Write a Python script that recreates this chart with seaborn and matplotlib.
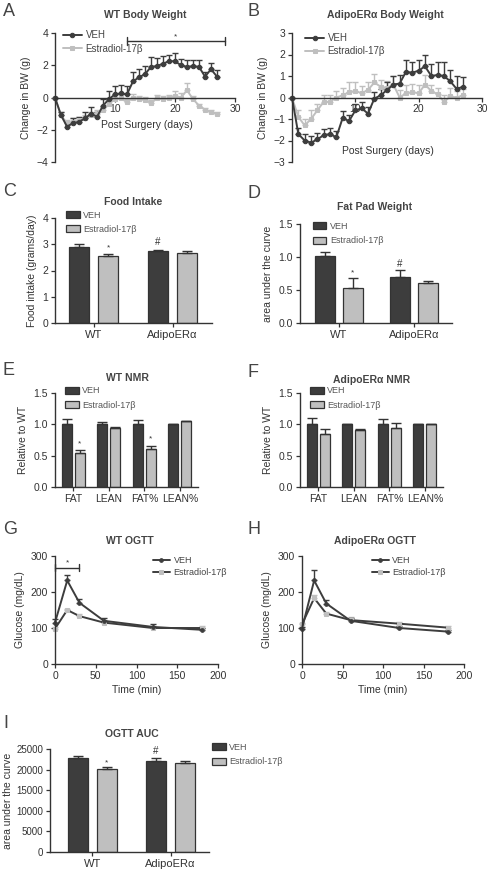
import numpy as np
import pandas as pd
import matplotlib
matplotlib.use('Agg')
import matplotlib.pyplot as plt
import seaborn as sns

# ---- data ----
days = list(range(28))
wt_bw_veh = [0, -1.1, -1.8, -1.6, -1.5, -1.3, -1.0, -1.2, -0.5, -0.1, 0.2, 0.25, 0.2, 1.0,
             1.25, 1.45, 1.9, 1.95, 2.1, 2.25, 2.25, 2.0, 1.9, 1.95, 1.9, 1.3, 1.75, 1.3]
wt_bw_veh_err = [0, 0.2, 0.3, 0.3, 0.3, 0.4, 0.4, 0.3, 0.4, 0.5, 0.5, 0.5, 0.5, 0.6,
                 0.5, 0.5, 0.6, 0.5, 0.5, 0.4, 0.5, 0.4, 0.4, 0.4, 0.4, 0.3, 0.4, 0.4]
wt_bw_e2 = [0, -1.1, -1.6, -1.5, -1.4, -1.3, -1.1, -1.0, -0.8, -0.4, -0.1, -0.05, -0.3, 0.0,
            -0.1, -0.15, -0.35, -0.05, -0.1, -0.05, 0.1, 0.0, 0.45, -0.1, -0.5, -0.75, -0.9, -1.0]
wt_bw_e2_err = [0, 0.2, 0.2, 0.2, 0.2, 0.2, 0.2, 0.2, 0.2, 0.3, 0.3, 0.2, 0.2, 0.2,
                0.2, 0.2, 0.2, 0.2, 0.2, 0.2, 0.3, 0.3, 0.45, 0.2, 0.1, 0.1, 0.1, 0.1]

ko_bw_veh = [0, -1.7, -2.0, -2.1, -1.95, -1.75, -1.7, -1.85, -0.95, -1.1, -0.6, -0.5, -0.75, -0.05,
             0.1, 0.35, 0.6, 0.65, 1.2, 1.15, 1.25, 1.45, 1.0, 1.05, 1.0, 0.75, 0.4, 0.5]
ko_bw_veh_err = [0, 0.3, 0.3, 0.3, 0.3, 0.3, 0.3, 0.3, 0.3, 0.3, 0.3, 0.3, 0.3, 0.3,
                 0.3, 0.35, 0.4, 0.4, 0.55, 0.5, 0.5, 0.55, 0.55, 0.6, 0.65, 0.55, 0.6, 0.45]
ko_bw_e2 = [0, -0.9, -1.3, -1.0, -0.6, -0.2, -0.2, 0.0, 0.1, 0.25, 0.3, 0.2, 0.35, 0.7,
            0.5, 0.45, 0.6, 0.0, 0.2, 0.25, 0.2, 0.6, 0.3, 0.15, -0.2, 0.05, 0.0, 0.1]
ko_bw_e2_err = [0, 0.3, 0.3, 0.4, 0.3, 0.3, 0.3, 0.3, 0.35, 0.45, 0.4, 0.35, 0.35, 0.4,
                0.3, 0.3, 0.4, 0.35, 0.4, 0.4, 0.4, 0.45, 0.3, 0.3, 0.3, 0.4, 0.3, 0.3]

genotypes = ['WT', 'AdipoERα']
food_veh = [2.9, 2.75]
food_veh_err = [0.1, 0.05]
food_e2 = [2.55, 2.65]
food_e2_err = [0.06, 0.1]

fat_veh = [1.02, 0.70]
fat_veh_err = [0.05, 0.1]
fat_e2 = [0.53, 0.60]
fat_e2_err = [0.15, 0.04]

nmr_cats = ['FAT', 'LEAN', 'FAT%', 'LEAN%']
wt_nmr_veh = [1.0, 1.0, 1.0, 1.0]
wt_nmr_veh_err = [0.08, 0.03, 0.07, 0.01]
wt_nmr_e2 = [0.54, 0.94, 0.60, 1.05]
wt_nmr_e2_err = [0.05, 0.02, 0.06, 0.01]
ko_nmr_veh = [1.0, 1.0, 1.0, 1.0]
ko_nmr_veh_err = [0.1, 0.01, 0.09, 0.01]
ko_nmr_e2 = [0.85, 0.91, 0.94, 1.0]
ko_nmr_e2_err = [0.07, 0.02, 0.08, 0.01]

ogtt_time = [0, 15, 30, 60, 120, 180]
wt_ogtt_veh = [115, 232, 170, 120, 103, 95]
wt_ogtt_veh_err = [10, 15, 10, 8, 8, 5]
wt_ogtt_e2 = [98, 150, 133, 115, 100, 100]
wt_ogtt_e2_err = [5, 4, 5, 4, 4, 6]
ko_ogtt_veh = [98, 232, 168, 120, 100, 90]
ko_ogtt_veh_err = [5, 28, 10, 8, 5, 5]
ko_ogtt_e2 = [110, 183, 140, 122, 112, 101]
ko_ogtt_e2_err = [5, 10, 5, 8, 4, 4]

auc_veh = [22800, 22100]
auc_veh_err = [500, 700]
auc_e2 = [20200, 21700]
auc_e2_err = [400, 400]

# ---- style ----
sns.set_theme(style='ticks')
plt.rcParams['font.family'] = ['Liberation Sans', 'DejaVu Sans']
TXT = '#333333'
DARK = '#3d3d3d'
LIGHT = '#bfbfbf'
plt.rcParams['text.color'] = TXT
plt.rcParams['axes.labelcolor'] = TXT
LAB = 7.5

W, H = 490, 873
fig = plt.figure(figsize=(W / 100, H / 100), dpi=100)


def px_axes(l, t, r, b):
    return fig.add_axes([l / W, 1 - b / H, (r - l) / W, (b - t) / H])


def style(ax):
    sns.despine(ax=ax)
    for s in ['left', 'bottom']:
        ax.spines[s].set_linewidth(1.0)
        ax.spines[s].set_color(TXT)
    ax.tick_params(labelsize=7.5, length=3, width=0.9, pad=2, colors=TXT)
    ax.set_facecolor('none')


def up_err(ax, x, y, err, color, cap=2.0):
    ax.errorbar(x, y, yerr=[np.zeros(len(err)), err], fmt='none', ecolor=color,
                elinewidth=1.0, capsize=cap, capthick=1.0, clip_on=False)


def line_panel(ax, x, veh, veh_err, e2, e2_err, e2_line, ms):
    up_err(ax, x, e2, e2_err, LIGHT)
    up_err(ax, x, veh, veh_err, DARK)
    sns.lineplot(x=x, y=e2, color=e2_line, marker='s', markersize=ms, markerfacecolor=LIGHT,
                 markeredgecolor=LIGHT, linewidth=1.4, label='Estradiol-17β', ax=ax)
    sns.lineplot(x=x, y=veh, color=DARK, marker='o', markersize=ms, markeredgecolor=DARK,
                 linewidth=1.4, label='VEH', ax=ax)
    for ln in ax.lines:
        ln.set_clip_on(False)
    style(ax)


def bar_panel(ax, cats, veh, veh_err, e2, e2_err, width, gap):
    df = pd.DataFrame({'cat': cats * 2, 'val': veh + e2,
                       'grp': ['VEH'] * len(cats) + ['Estradiol-17β'] * len(cats)})
    sns.barplot(data=df, x='cat', y='val', hue='grp', palette=[DARK, LIGHT], width=width,
                gap=gap, edgecolor=TXT, linewidth=0.9, errorbar=None, ax=ax, saturation=1)
    for cont, errs in zip(ax.containers, [veh_err, e2_err]):
        xs = [p.get_x() + p.get_width() / 2 for p in cont]
        ys = [p.get_height() for p in cont]
        up_err(ax, xs, ys, errs, TXT, cap=3.5)
    style(ax)
    ax.tick_params(axis='x', labelsize=8)
    ax.set_xlabel('')


def bar_legend(ax, x, y):
    h, l = ax.get_legend_handles_labels()
    order = [l.index('VEH'), l.index('Estradiol-17β')]
    ax.legend([h[i] for i in order], [l[i] for i in order], loc='upper left',
              bbox_to_anchor=(x, y), frameon=False, fontsize=6.5, handlelength=1.5,
              handleheight=0.8, handletextpad=0.4, labelspacing=0.6, borderpad=0,
              borderaxespad=0, labelcolor='#555555')


def line_legend(ax, x, y, fs=7):
    h, l = ax.get_legend_handles_labels()
    order = [l.index('VEH'), l.index('Estradiol-17β')]
    ax.legend([h[i] for i in order], [l[i] for i in order], loc='upper left',
              bbox_to_anchor=(x, y), frameon=False, fontsize=fs, handlelength=1.9,
              handletextpad=0.4, labelspacing=0.35, borderpad=0, borderaxespad=0,
              labelcolor='#444444')


def title(x, y, s):
    fig.text(x / W, 1 - y / H, s, ha='center', va='center', fontsize=7.5,
             fontweight='bold', color='#444444')


def letter(x, y, s):
    fig.text(x / W, 1 - y / H, s, ha='left', va='center', fontsize=13, color='#444444')


# ---- A: WT body weight ----
axA = px_axes(55, 33, 235, 162)
line_panel(axA, days, wt_bw_veh, wt_bw_veh_err, wt_bw_e2, wt_bw_e2_err, LIGHT, 3.2)
axA.set_xlim(0, 30)
axA.set_ylim(-4, 4)
axA.set_yticks([-4, -2, 0, 2, 4])
axA.set_xticks([0, 10, 20, 30], ['', '10', '20', '30'])
axA.spines['bottom'].set_position(('data', 0))
axA.set_ylabel('Change in BW (g)', fontsize=LAB)
axA.text(0.51, 0.29, 'Post Surgery (days)', transform=axA.transAxes, ha='center',
         va='center', fontsize=LAB)
axA.plot([12, 28.3], [3.5, 3.5], color=TXT, lw=1.0, clip_on=False)
for xb in [12, 28.3]:
    axA.plot([xb, xb], [3.25, 3.75], color=TXT, lw=1.0, clip_on=False)
axA.text(20, 3.55, '*', ha='center', va='bottom', fontsize=6)
line_legend(axA, 0.045, 1.02)

# ---- B: AdipoERa body weight ----
axB = px_axes(292, 33, 482, 162)
line_panel(axB, days, ko_bw_veh, ko_bw_veh_err, ko_bw_e2, ko_bw_e2_err, LIGHT, 3.2)
axB.set_xlim(0, 30)
axB.set_ylim(-3, 3)
axB.set_yticks([-3, -2, -1, 0, 1, 2, 3])
axB.set_xticks([0, 10, 20, 30], ['', '10', '20', '30'])
axB.spines['bottom'].set_position(('data', 0))
axB.set_ylabel('Change in BW (g)', fontsize=LAB)
axB.text(0.505, 0.085, 'Post Surgery (days)', transform=axB.transAxes, ha='center',
         va='center', fontsize=LAB)
line_legend(axB, 0.07, 1.0)

# ---- C: food intake ----
axC = px_axes(55, 218, 212, 323)
bar_panel(axC, genotypes, food_veh, food_veh_err, food_e2, food_e2_err, 0.746, 0.32)
axC.set_xlim(-0.49, 1.5)
axC.set_ylim(0, 4)
axC.set_yticks([0, 1, 2, 3, 4])
axC.set_ylabel('Food intake (grams/day)', fontsize=LAB)
axC.text(0.187, 2.55 + 0.06 + 0.12, '*', ha='center', va='bottom', fontsize=6)
axC.text(1 - 0.187, 2.75 + 0.05 + 0.1, '#', ha='center', va='bottom', fontsize=7)
bar_legend(axC, 0.07, 1.07)

# ---- D: fat pad weight ----
axD = px_axes(300, 224, 452, 323)
bar_panel(axD, genotypes, fat_veh, fat_veh_err, fat_e2, fat_e2_err, 0.746, 0.285)
axD.set_xlim(-0.52, 1.51)
axD.set_ylim(0, 1.5)
axD.set_yticks([0, 0.5, 1.0, 1.5])
axD.yaxis.set_major_formatter(matplotlib.ticker.FormatStrFormatter('%.1f'))
axD.set_ylabel('area under the curve', fontsize=LAB)
axD.text(0.187, 0.53 + 0.17, '*', ha='center', va='bottom', fontsize=6)
axD.text(1 - 0.187, 0.70 + 0.12, '#', ha='center', va='bottom', fontsize=7)
bar_legend(axD, 0.085, 1.02)

# ---- E: WT NMR ----
axE = px_axes(55, 393, 198, 487)
bar_panel(axE, nmr_cats, wt_nmr_veh, wt_nmr_veh_err, wt_nmr_e2, wt_nmr_e2_err, 0.73, 0.23)
axE.set_xlim(-0.52, 3.51)
axE.set_ylim(0, 1.5)
axE.set_yticks([0, 0.5, 1.0, 1.5])
axE.yaxis.set_major_formatter(matplotlib.ticker.FormatStrFormatter('%.1f'))
axE.set_ylabel('Relative to WT', fontsize=LAB)
axE.tick_params(axis='x', labelsize=7.5)
for i, (v, e) in enumerate(zip(wt_nmr_e2, wt_nmr_e2_err)):
    if i in (0, 2):
        axE.text(i + 0.1825, v + e + 0.05, '*', ha='center', va='bottom', fontsize=6)
bar_legend(axE, 0.07, 1.07)

# ---- F: AdipoERa NMR ----
axF = px_axes(300, 393, 443, 487)
bar_panel(axF, nmr_cats, ko_nmr_veh, ko_nmr_veh_err, ko_nmr_e2, ko_nmr_e2_err, 0.73, 0.23)
axF.set_xlim(-0.52, 3.51)
axF.set_ylim(0, 1.5)
axF.set_yticks([0, 0.5, 1.0, 1.5])
axF.yaxis.set_major_formatter(matplotlib.ticker.FormatStrFormatter('%.1f'))
axF.set_ylabel('Relative to WT', fontsize=LAB)
axF.tick_params(axis='x', labelsize=7.5)
bar_legend(axF, 0.07, 1.07)

# ---- G: WT OGTT ----
axG = px_axes(55, 556, 218, 664)
line_panel(axG, ogtt_time, wt_ogtt_veh, wt_ogtt_veh_err, wt_ogtt_e2, wt_ogtt_e2_err, DARK, 2.6)
axG.set_xlim(0, 200)
axG.set_ylim(0, 300)
axG.set_xticks([0, 50, 100, 150, 200])
axG.set_yticks([0, 100, 200, 300])
axG.set_xlabel('Time (min)', fontsize=LAB, labelpad=3)
axG.set_ylabel('Glucose (mg/dL)', fontsize=LAB)
axG.plot([0, 30], [268, 268], color=TXT, lw=1.0, clip_on=False)
for xb in [0, 30]:
    axG.plot([xb, xb], [258, 278], color=TXT, lw=1.0, clip_on=False)
axG.text(15, 270, '*', ha='center', va='bottom', fontsize=6)
line_legend(axG, 0.6, 1.0, fs=6.5)

# ---- H: AdipoERa OGTT ----
axH = px_axes(302, 556, 464, 664)
line_panel(axH, ogtt_time, ko_ogtt_veh, ko_ogtt_veh_err, ko_ogtt_e2, ko_ogtt_e2_err, DARK, 2.6)
axH.set_xlim(0, 200)
axH.set_ylim(0, 300)
axH.set_xticks([0, 50, 100, 150, 200])
axH.set_yticks([0, 100, 200, 300])
axH.set_xlabel('Time (min)', fontsize=LAB, labelpad=3)
axH.set_ylabel('Glucose (mg/dL)', fontsize=LAB)
line_legend(axH, 0.43, 1.0, fs=6.5)

# ---- I: OGTT AUC ----
axI = px_axes(50, 749, 209, 852)
bar_panel(axI, genotypes, auc_veh, auc_veh_err, auc_e2, auc_e2_err, 0.74, 0.31)
axI.set_xlim(-0.54, 1.49)
axI.set_ylim(0, 25000)
axI.set_yticks([0, 5000, 10000, 15000, 20000, 25000])
axI.tick_params(axis='y', labelsize=7)
axI.set_ylabel('area under the curve', fontsize=LAB, labelpad=2)
axI.text(0.185, 20200 + 400 + 300, '*', ha='center', va='bottom', fontsize=6)
axI.text(1 - 0.185, 22100 + 700 + 400, '#', ha='center', va='bottom', fontsize=7)
bar_legend(axI, 1.02, 1.06)

# ---- titles and letters ----
title(145, 15, 'WT Body Weight')
title(385, 15, 'AdipoERα Body Weight')
title(133, 202, 'Food Intake')
title(375, 207, 'Fat Pad Weight')
title(127, 378, 'WT NMR')
title(372, 380, 'AdipoERα NMR')
title(130, 541, 'WT OGTT')
title(375, 541, 'AdipoERα OGTT')
title(132, 734, 'OGTT AUC')
letter(3, 12, 'A')
letter(247, 12, 'B')
letter(3, 192, 'C')
letter(247, 194, 'D')
letter(3, 370, 'E')
letter(247, 372, 'F')
letter(3, 530, 'G')
letter(247, 530, 'H')
letter(3, 724, 'I')

fig.savefig('out.png', dpi=100, facecolor='white')
